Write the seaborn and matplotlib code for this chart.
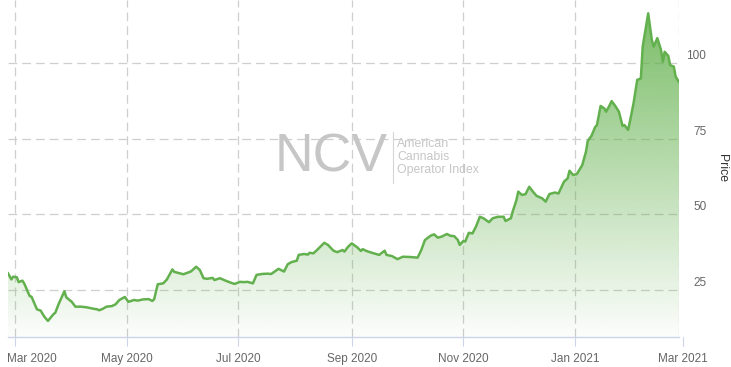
import numpy as np
import pandas as pd
import matplotlib
matplotlib.use("Agg")
import matplotlib.pyplot as plt
import matplotlib.dates as mdates
from matplotlib.lines import Line2D
import seaborn as sns

dates = [
    "2020-02-26", "2020-02-28", "2020-02-29", "2020-03-02", "2020-03-03", "2020-03-05",
    "2020-03-06", "2020-03-09", "2020-03-10", "2020-03-13", "2020-03-15", "2020-03-17",
    "2020-03-19", "2020-03-22", "2020-03-23", "2020-03-25", "2020-03-28", "2020-03-29",
    "2020-04-01", "2020-04-03", "2020-04-06", "2020-04-09", "2020-04-13", "2020-04-15",
    "2020-04-16", "2020-04-18", "2020-04-20", "2020-04-23", "2020-04-25", "2020-04-27",
    "2020-04-30", "2020-05-02", "2020-05-05", "2020-05-07", "2020-05-10", "2020-05-13",
    "2020-05-15", "2020-05-16", "2020-05-18", "2020-05-21", "2020-05-23", "2020-05-26",
    "2020-05-27", "2020-05-30", "2020-06-01", "2020-06-05", "2020-06-06", "2020-06-08",
    "2020-06-10", "2020-06-12", "2020-06-14", "2020-06-17", "2020-06-18", "2020-06-21",
    "2020-06-24", "2020-06-27", "2020-06-29", "2020-07-02", "2020-07-04", "2020-07-06",
    "2020-07-09", "2020-07-11", "2020-07-14", "2020-07-17", "2020-07-19", "2020-07-22",
    "2020-07-23", "2020-07-26", "2020-07-28", "2020-07-30", "2020-08-02", "2020-08-03",
    "2020-08-06", "2020-08-08", "2020-08-09", "2020-08-11", "2020-08-13", "2020-08-14",
    "2020-08-17", "2020-08-19", "2020-08-22", "2020-08-24", "2020-08-27", "2020-08-28",
    "2020-08-30", "2020-09-01", "2020-09-04", "2020-09-06", "2020-09-07", "2020-09-09",
    "2020-09-12", "2020-09-16", "2020-09-19", "2020-09-20", "2020-09-23", "2020-09-26",
    "2020-09-29", "2020-10-03", "2020-10-07", "2020-10-09", "2020-10-11", "2020-10-14",
    "2020-10-16", "2020-10-18", "2020-10-20", "2020-10-23", "2020-10-25", "2020-10-27",
    "2020-10-29", "2020-10-30", "2020-11-01", "2020-11-02", "2020-11-04", "2020-11-06",
    "2020-11-08", "2020-11-10", "2020-11-12", "2020-11-15", "2020-11-17", "2020-11-20",
    "2020-11-23", "2020-11-24", "2020-11-27", "2020-11-28", "2020-11-30", "2020-12-01",
    "2020-12-03", "2020-12-05", "2020-12-07", "2020-12-09", "2020-12-11", "2020-12-14",
    "2020-12-16", "2020-12-18", "2020-12-21", "2020-12-23", "2020-12-26", "2020-12-28",
    "2020-12-29", "2020-12-31", "2021-01-02", "2021-01-05", "2021-01-07", "2021-01-08",
    "2021-01-10", "2021-01-12", "2021-01-13", "2021-01-15", "2021-01-17", "2021-01-18",
    "2021-01-20", "2021-01-21", "2021-01-23", "2021-01-25", "2021-01-27", "2021-01-28",
    "2021-01-30", "2021-01-31", "2021-02-02", "2021-02-04", "2021-02-06", "2021-02-07",
    "2021-02-10", "2021-02-12", "2021-02-13", "2021-02-15", "2021-02-17", "2021-02-18",
    "2021-02-19", "2021-02-21", "2021-02-22", "2021-02-24", "2021-02-25", "2021-02-27",
]
prices = [
    30.7, 28.5, 29.4, 29.2, 27.6, 28.1,
    27.2, 23.0, 22.8, 18.6, 18.2, 16.2,
    14.8, 17.0, 17.5, 20.6, 24.6, 22.6,
    21.1, 19.5, 19.5, 19.3, 18.8, 18.6,
    18.3, 18.8, 19.5, 19.7, 20.3, 21.7,
    22.7, 21.1, 21.7, 21.5, 21.9, 22.0,
    21.4, 21.9, 26.9, 27.2, 28.5, 31.8,
    31.0, 30.5, 30.2, 31.1, 31.6, 32.7,
    31.6, 28.9, 28.7, 29.0, 28.3, 28.9,
    28.1, 27.4, 27.0, 27.7, 27.6, 27.7,
    27.2, 30.0, 30.3, 30.4, 30.3, 31.6,
    32.0, 31.1, 33.5, 34.2, 34.7, 36.6,
    36.9, 36.7, 37.3, 37.1, 38.2, 38.8,
    40.6, 39.9, 38.0, 37.5, 38.2, 37.7,
    39.3, 40.4, 39.1, 37.9, 38.5, 37.9,
    37.3, 36.6, 38.0, 36.6, 36.2, 35.2,
    36.0, 35.9, 35.7, 38.2, 41.5, 42.9,
    43.4, 42.3, 42.6, 43.5, 42.9, 42.8,
    41.5, 39.9, 41.2, 41.0, 43.9, 43.7,
    46.1, 49.2, 48.7, 47.4, 48.7, 49.2,
    49.2, 47.8, 48.7, 51.0, 54.7, 57.5,
    56.4, 56.7, 59.1, 57.5, 56.1, 55.3,
    54.2, 56.7, 57.2, 56.9, 60.8, 61.9,
    64.4, 63.0, 63.3, 66.3, 70.7, 74.3,
    75.9, 78.8, 79.5, 85.8, 85.0, 83.9,
    86.1, 87.4, 85.8, 83.9, 79.2, 79.5,
    77.9, 80.6, 86.7, 94.4, 94.9, 105.4,
    116.4, 107.6, 105.4, 108.2, 104.3, 100.4,
    103.7, 102.3, 99.3, 98.8, 95.5, 93.5,
]
x_ticks = ["2020-03-01", "2020-05-01", "2020-07-01", "2020-09-01", "2020-11-01", "2021-01-01"]
x_tick_labels = ["Mar 2020", "May 2020", "Jul 2020", "Sep 2020", "Nov 2020", "Jan 2021"]
outer_tick = "2021-03-01"
outer_tick_label = "Mar 2021"
y_ticks = [25, 50, 75, 100]
y_label = "Price"

sns.set_theme(style="white")
plt.rcParams["font.family"] = ["Liberation Sans", "DejaVu Sans"]

df = pd.DataFrame({"date": pd.to_datetime(dates), "price": prices})

W, H = 731, 367
fig = plt.figure(figsize=(W / 100, H / 100), dpi=100)
left_px, right_px = 7.7, 679.3
bottom_px, top_px = 337, 0
ax = fig.add_axes([left_px / W, (H - bottom_px) / H, (right_px - left_px) / W, (bottom_px - top_px) / H])

ymin, ymax = 9.48, 120.8
x0, x1 = df["date"].iloc[0], df["date"].iloc[-1]
ax.set_xlim(x0, x1)
ax.set_ylim(ymin, ymax)

line_color = "#63b04e"
sns.lineplot(data=df, x="date", y="price", color=line_color, lw=1.8, ax=ax, zorder=5)

# gradient fill under the line
poly = ax.fill_between(df["date"], df["price"], ymin, facecolor="none", edgecolor="none")
n = 256
alphas = np.linspace(0.02, 0.88, n)
grad = np.zeros((n, 2, 4))
grad[:, :, 0] = 99 / 255
grad[:, :, 1] = 177 / 255
grad[:, :, 2] = 77 / 255
grad[:, :, 3] = alphas[:, None]
im = ax.imshow(grad, extent=[mdates.date2num(x0), mdates.date2num(x1), ymin, ymax],
               origin="lower", aspect="auto", zorder=3, interpolation="bilinear")
im.set_clip_path(poly.get_paths()[0], transform=ax.transData)

# grid
grid_kw = dict(color="#cfcfcf", lw=0.9, linestyle=(0, (7, 4)), zorder=1)
for t in x_ticks:
    ax.axvline(pd.Timestamp(t), **grid_kw)
ax.axvline(x1, **grid_kw)
for v in y_ticks:
    ax.axhline(v, **grid_kw)

# axes styling
for s in ["top", "left", "right"]:
    ax.spines[s].set_visible(False)
ax.spines["bottom"].set_color("#ccd6eb")
ax.spines["bottom"].set_linewidth(1)
ax.set_xticks(pd.to_datetime(x_ticks))
ax.set_xticklabels([""] + x_tick_labels[1:])
ax.tick_params(axis="x", length=6.5, width=0.8, color="#ccd6eb", pad=5,
               labelsize=8.5, labelcolor="#666666", bottom=True)
ax.set_yticks(y_ticks)
ax.set_yticklabels([])
ax.tick_params(axis="y", length=0, left=False, right=False)
ax.set_xlabel("")
ax.set_ylabel("")
ax.grid(False)

# first label is pushed right to stay inside the chart (as in the reference)
ax.annotate(x_tick_labels[0], xy=(0, 0), xycoords="axes fraction", xytext=(-0.5, -11.5),
            textcoords="offset points", ha="left", va="top", fontsize=8.5, color="#666666",
            annotation_clip=False)

# outer tick (Mar 2021) beyond the plot edge
tr = matplotlib.transforms.blended_transform_factory(ax.transData, ax.transAxes)
ot = pd.Timestamp(outer_tick)
ax.add_line(Line2D([ot, ot], [0, -9 / (bottom_px - top_px)], transform=tr, color="#ccd6eb",
                   lw=0.8, clip_on=False))
ax.annotate(outer_tick_label, xy=(mdates.date2num(ot), 0), xycoords=tr, xytext=(0, -11.5),
            textcoords="offset points", ha="center", va="top", fontsize=8.5, color="#666666",
            annotation_clip=False)

# y tick labels on the right, slightly above the grid lines
for v in y_ticks:
    ax.annotate(str(v), xy=(1, v), xycoords=("axes fraction", "data"),
                xytext=(27 * 0.72, 7 * 0.72), textcoords="offset points",
                ha="right", va="center", fontsize=8.5, color="#666666", annotation_clip=False)

fig.text(722 / W, (H - 168) / H, y_label, rotation=270, ha="center", va="center",
         fontsize=8.8, color="#333333")

# watermark
wm = "#c6c6c6"
fig.text(275 / W, (H - 157) / H, "NCV", ha="left", va="center", fontsize=38.5, color=wm, zorder=10)
fig.add_artist(Line2D([393 / W, 393 / W], [(H - 132) / H, (H - 183) / H], color="#d4d4d4", lw=0.8))
for i, t in enumerate(["American", "Cannabis", "Operator Index"]):
    fig.text(397 / W, (H - (144 + 13 * i)) / H, t, ha="left", va="center", fontsize=8.8,
             color=wm, zorder=10)

fig.savefig("out.png", dpi=100)
